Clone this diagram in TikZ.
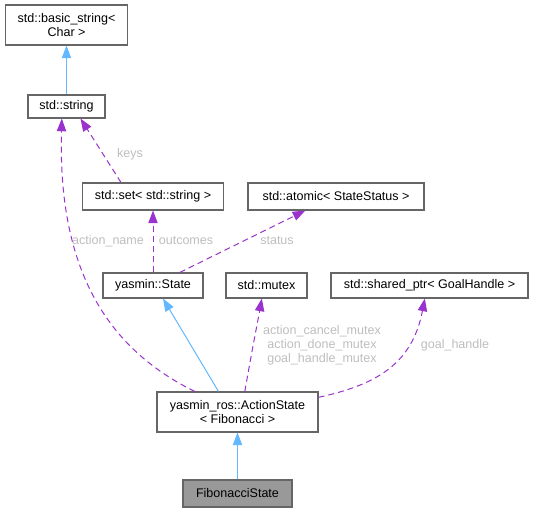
\documentclass[tikz,border=0pt]{standalone}
\usepackage{fontspec}
\setmainfont{Liberation Sans}
\usetikzlibrary{arrows.meta}
\definecolor{edgepurple}{HTML}{9A32CD}
\definecolor{edgeblue}{HTML}{63B8FF}
\definecolor{boxgray}{HTML}{666666}
\definecolor{labelgray}{HTML}{BEBEBE}
\definecolor{fillgray}{HTML}{999999}
\begin{document}
\begin{tikzpicture}[x=0.75pt,y=-0.75pt,
  cls/.style={draw=boxgray,line width=0.8pt,fill=white,inner sep=0pt,align=center,font=\fontsize{9.4}{10.6}\selectfont},
  uses/.style={draw=edgepurple,dashed,dash pattern=on 4.5pt off 3pt,line width=0.75pt,-{Triangle[length=9.5pt,width=7pt]}},
  inherit/.style={draw=edgeblue,line width=0.75pt,-{Triangle[length=9.5pt,width=7pt]}},
  lbl/.style={text=labelgray,inner sep=0pt,align=center,font=\fontsize{9.4}{10.6}\selectfont}]
\useasboundingbox (0,0) rectangle (533,512);
\node[cls,minimum width=92pt,minimum height=30pt] (bstr) at (66.5,25) {std::basic\_string\textless\\Char \textgreater};
\node[cls,minimum width=57.75pt,minimum height=17.25pt] (str) at (66.5,106.5) {std::string};
\node[cls,minimum width=105.75pt,minimum height=20.25pt] (set) at (153,196.5) {std::set\textless{} std::string \textgreater};
\node[cls,minimum width=132pt,minimum height=20.25pt] (atom) at (336,196.5) {std::atomic\textless{} StateStatus \textgreater};
\node[cls,minimum width=75pt,minimum height=18.75pt] (state) at (153,285.5) {yasmin::State};
\node[cls,minimum width=60.75pt,minimum height=18.75pt] (mutex) at (266.5,285.5) {std::mutex};
\node[cls,minimum width=147.75pt,minimum height=18.75pt] (sptr) at (429.5,285.5) {std::shared\_ptr\textless{} GoalHandle \textgreater};
\node[cls,minimum width=120.75pt,minimum height=30pt] (act) at (237.5,412) {yasmin\_ros::ActionState\\\textless{} Fibonacci \textgreater};
\node[cls,fill=fillgray,minimum width=81.75pt,minimum height=20.25pt] (fib) at (237.5,493.5) {FibonacciState};

\draw[inherit] (str.north) -- (bstr.south);
\draw[inherit] (fib.north) -- (act.south);
\draw[inherit] ([xshift=-14.25pt]act.north) -- ([xshift=7.5pt]state.south);

\draw[uses] ([xshift=-24pt]set.north) -- ([xshift=10.5pt]str.south);
\node[lbl] (lkeys) at (130,154) {keys};
\draw[uses] (state.north) -- (set.south);
\node[lbl] (lout) at (186,241) {outcomes};
\draw[uses] ([xshift=20pt]state.north) -- ([xshift=-23pt]atom.south);
\node[lbl] (lstat) at (277,241) {status};
\draw[uses] ([xshift=-32pt]act.north) .. controls (100,345) and (58,260) .. ([xshift=-3.5pt]str.south);
\node[lbl] (lact) at (108,241) {action\_name};
\draw[uses] ([xshift=5.5pt]act.north) .. controls (252,350) and (258,320) .. ([xshift=-3.5pt]mutex.south);
\node[lbl] (lmut) at (322,345) {action\_cancel\_mutex\\action\_done\_mutex\\goal\_handle\_mutex};
\draw[uses] ([yshift=11pt]act.east) .. controls (375,385) and (412,365) .. ([xshift=-3.5pt]sptr.south);
\node[lbl] (lgoal) at (455,345) {goal\_handle};
\end{tikzpicture}
\end{document}
